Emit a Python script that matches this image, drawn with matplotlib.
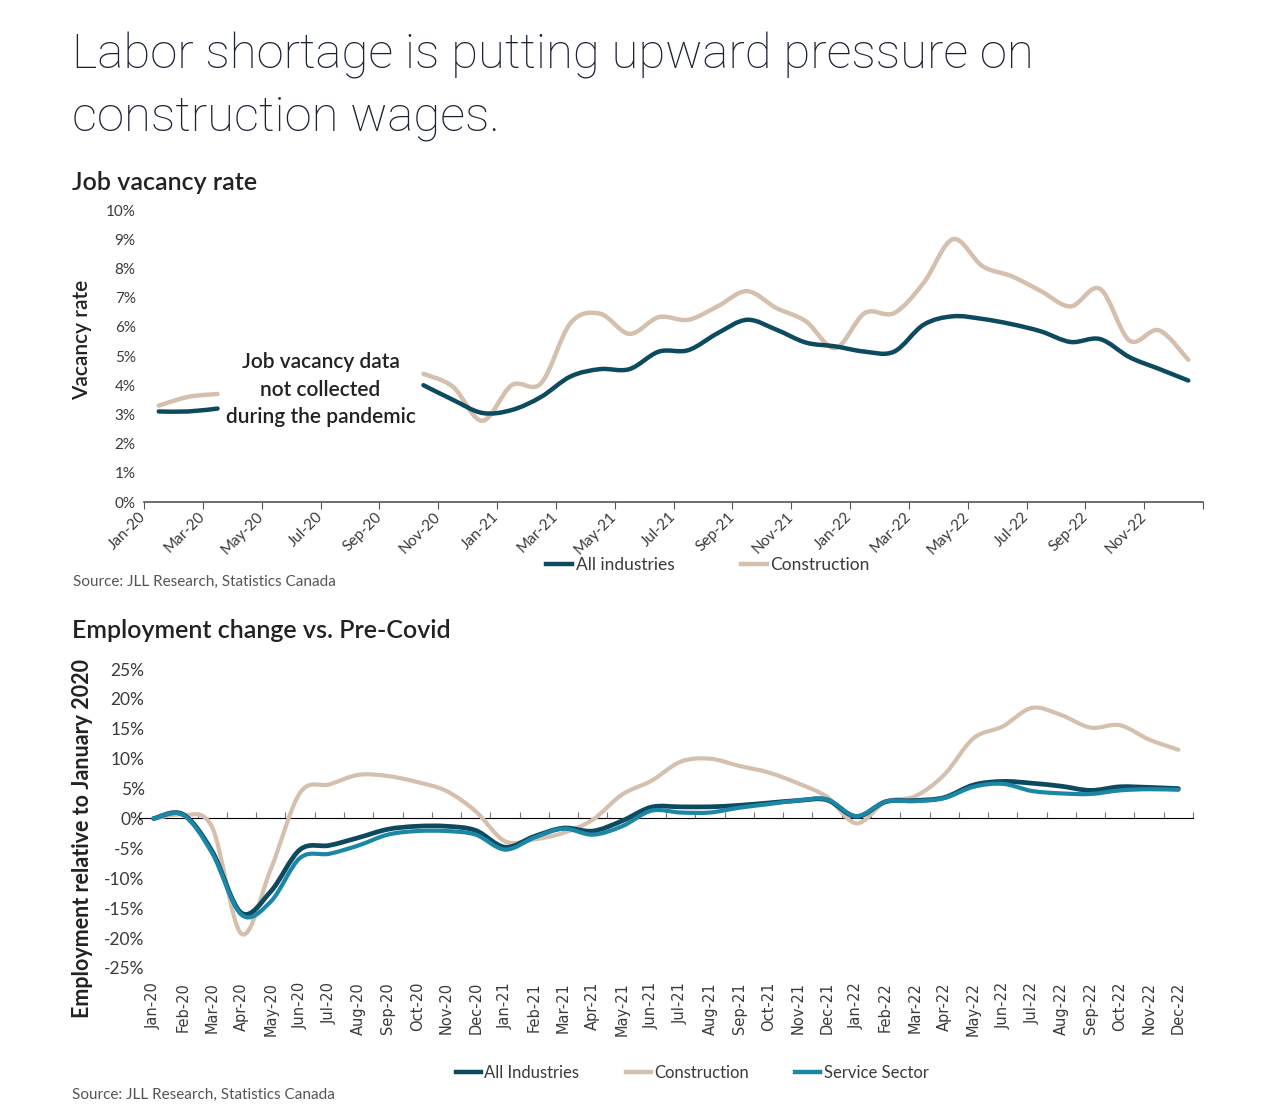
import numpy as np
import matplotlib
matplotlib.use("Agg")
import matplotlib.pyplot as plt
from matplotlib.path import Path
from matplotlib.patches import PathPatch
from matplotlib.lines import Line2D

plt.rcParams['font.family'] = ['Lato', 'DejaVu Sans']

# months Jan-20 .. Dec-22
months = ["Jan-20", "Feb-20", "Mar-20", "Apr-20", "May-20", "Jun-20", "Jul-20", "Aug-20",
          "Sep-20", "Oct-20", "Nov-20", "Dec-20", "Jan-21", "Feb-21", "Mar-21", "Apr-21",
          "May-21", "Jun-21", "Jul-21", "Aug-21", "Sep-21", "Oct-21", "Nov-21", "Dec-21",
          "Jan-22", "Feb-22", "Mar-22", "Apr-22", "May-22", "Jun-22", "Jul-22", "Aug-22",
          "Sep-22", "Oct-22", "Nov-22", "Dec-22"]

# job vacancy rate (%), None = not collected
vac_all = [3.1, 3.1, 3.2, None, None, None, None, None, None,
           4.0, 3.5, 3.05, 3.15, 3.6, 4.3, 4.55, 4.55, 5.15, 5.2, 5.78, 6.24, 5.9,
           5.46, 5.33, 5.15, 5.15, 6.07, 6.36, 6.27, 6.09, 5.84, 5.48, 5.58, 4.96, 4.56, 4.16]
vac_con = [3.3, 3.6, 3.7, None, None, None, None, None, None,
           4.39, 3.95, 2.78, 4.0, 4.07, 6.13, 6.45, 5.76, 6.33, 6.24, 6.7, 7.22, 6.64,
           6.19, 5.27, 6.47, 6.47, 7.5, 9.0, 8.08, 7.73, 7.22, 6.7, 7.3, 5.53, 5.88, 4.87]

# employment change vs Jan 2020 (%)
emp_all = [0.0, 0.7, -5.5, -15.8, -12.2, -5.2, -4.5, -3.2, -1.8, -1.3, -1.3, -2.0,
           -4.8, -3.0, -1.6, -2.1, -0.4, 1.9, 1.95, 1.95, 2.2, 2.6, 3.0, 3.1,
           0.3, 2.8, 3.0, 3.5, 5.6, 6.2, 5.9, 5.4, 4.7, 5.3, 5.2, 5.0]
emp_con = [0.0, 0.6, -1.5, -19.3, -8.5, 4.3, 5.7, 7.3, 7.1, 6.1, 4.6, 1.2,
           -3.8, -3.5, -2.4, -0.2, 4.0, 6.3, 9.5, 10.0, 8.8, 7.7, 5.9, 3.6,
           -0.8, 2.8, 3.7, 7.3, 13.4, 15.4, 18.5, 17.3, 15.2, 15.6, 13.2, 11.5]
emp_srv = [0.0, 0.6, -5.8, -16.1, -13.9, -6.6, -5.9, -4.5, -2.7, -2.1, -2.1, -2.7,
           -5.2, -3.2, -1.7, -2.7, -1.3, 1.3, 1.0, 1.0, 1.8, 2.4, 3.0, 3.2,
           0.4, 2.8, 2.9, 3.4, 5.3, 5.8, 4.6, 4.2, 4.1, 4.7, 4.9, 4.8]

C_ALL = "#0c4a5f"
C_CON = "#d5bfad"
C_SRV = "#1b86a6"
C_TXT = "#3a3a3a"


def smooth(x, y):
    # Excel-style smoothed line as a bezier path through the points
    n = len(x)
    verts = [(x[0], y[0])]
    codes = [Path.MOVETO]
    for i in range(n - 1):
        a = max(i - 1, 0)
        b = min(i + 2, n - 1)
        c1 = (x[i] + (x[i + 1] - x[a]) / 6, y[i] + (y[i + 1] - y[a]) / 6)
        c2 = (x[i + 1] - (x[b] - x[i]) / 6, y[i + 1] - (y[b] - y[i]) / 6)
        verts += [c1, c2, (x[i + 1], y[i + 1])]
        codes += [Path.CURVE4] * 3
    return Path(verts, codes)


def draw(ax, vals, color, lw):
    seg_x, seg_y = [], []
    for i, v in enumerate(vals + [None]):
        if v is None:
            if len(seg_x) > 1:
                ax.add_patch(PathPatch(smooth(seg_x, seg_y), fill=False, edgecolor=color,
                                       lw=lw, capstyle='round', joinstyle='round'))
            seg_x, seg_y = [], []
        else:
            seg_x.append(i)
            seg_y.append(v)


fig = plt.figure(figsize=(12.8, 11.08), dpi=100)
W, H = 1280, 1108

fig.text(72 / W, 1 - 32 / H, "Labor shortage is putting upward pressure on\nconstruction wages.",
         fontsize=35.4, fontweight='light', family=['Roboto', 'Lato', 'DejaVu Sans'],
         color="#1c2333", va='top', linespacing=1.42)

# ---------- top chart ----------
fig.text(72 / W, 1 - 183 / H, "Job vacancy rate", fontsize=18, fontweight='semibold',
         color="#222222", va='center')
ax1 = fig.add_axes([144 / W, 1 - 502 / H, (1203 - 144) / W, 292 / H])
draw(ax1, vac_con, C_CON, 3.2)
draw(ax1, vac_all, C_ALL, 3.2)
ax1.set_xlim(-0.5, 35.5)
ax1.set_ylim(0, 10)
ax1.set_yticks(range(0, 11))
ax1.set_yticklabels([f"{v}%" for v in range(0, 11)])
ticks = np.arange(-0.5, 36, 2)
ax1.set_xticks(ticks)
ax1.set_xticklabels(months[::2] + [""], rotation=45, ha='right', va='center',
                    rotation_mode='anchor')
for s in ['top', 'right', 'left']:
    ax1.spines[s].set_visible(False)
ax1.spines['bottom'].set_color("#555555")
ax1.spines['bottom'].set_linewidth(1.2)
ax1.tick_params(axis='y', length=0, labelsize=11, labelcolor=C_TXT, pad=6)
ax1.tick_params(axis='x', length=5, color="#555555", labelsize=11, labelcolor=C_TXT, pad=4)
ax1.text(5.5, 3.85, "Job vacancy data\nnot collected\nduring the pandemic", ha='center',
         va='center', fontsize=15, fontweight='semibold', color="#222222", linespacing=1.45)
fig.text(82 / W, 1 - 340 / H, "Vacancy rate", rotation=90, ha='center', va='center',
         fontsize=15, fontweight='semibold', color="#222222")
h1 = [Line2D([], [], color=C_ALL, lw=3.2), Line2D([], [], color=C_CON, lw=3.2)]
fig.legend(h1, ["All industries", "Construction"], loc='center', ncol=2,
           bbox_to_anchor=(708 / W, 1 - 565 / H), frameon=False, fontsize=12.5,
           handlelength=1.5, handletextpad=0.2, columnspacing=3.8, labelcolor=C_TXT)
fig.text(73 / W, 1 - 582 / H, "Source: JLL Research, Statistics Canada", fontsize=11,
         color="#555555", va='center')

# ---------- bottom chart ----------
fig.text(72 / W, 1 - 631 / H, "Employment change vs. Pre-Covid", fontsize=18,
         fontweight='semibold', color="#222222", va='center')
ax2 = fig.add_axes([139 / W, 1 - 968 / H, (1193 - 139) / W, 299 / H])
draw(ax2, emp_con, C_CON, 3.0)
draw(ax2, emp_all, C_ALL, 3.4)
draw(ax2, emp_srv, C_SRV, 3.0)
ax2.set_xlim(-0.5, 35.5)
ax2.set_ylim(-25, 25)
ax2.set_yticks(range(-25, 30, 5))
ax2.set_yticklabels([f"{v}%" for v in range(-25, 30, 5)])
ax2.set_xticks(range(36))
ax2.set_xticklabels(months, rotation=90, family=['DejaVu Sans'])
for s in ['top', 'right', 'left', 'bottom']:
    ax2.spines[s].set_visible(False)
ax2.tick_params(axis='y', length=0, labelsize=12.5, labelcolor=C_TXT, pad=-4)
ax2.tick_params(axis='x', length=0, labelsize=10.5, labelcolor=C_TXT, pad=10)
zero = ax2.secondary_xaxis(0.5)
zero.set_xticks(np.arange(-0.5, 36, 1))
zero.tick_params(axis='x', length=4, color="#777777", labelbottom=False, labeltop=False)
zero.spines['bottom'].set_color("#777777")
zero.spines['bottom'].set_linewidth(1.0)
fig.text(83 / W, 1 - 839 / H, "Employment relative to January 2020", rotation=90,
         ha='center', va='center', fontsize=15.5, fontweight='bold', color="#222222")
h2 = [Line2D([], [], color=C_ALL, lw=3.2), Line2D([], [], color=C_CON, lw=3.2),
      Line2D([], [], color=C_SRV, lw=3.2)]
fig.legend(h2, ["All Industries", "Construction", "Service Sector"], loc='center', ncol=3,
           bbox_to_anchor=(692 / W, 1 - 1073 / H), frameon=False, fontsize=12,
           handlelength=1.5, handletextpad=0.2, columnspacing=2.8, labelcolor=C_TXT)
fig.text(72 / W, 1 - 1095 / H, "Source: JLL Research, Statistics Canada", fontsize=11,
         color="#555555", va='center')

fig.savefig("out.png", dpi=100)
